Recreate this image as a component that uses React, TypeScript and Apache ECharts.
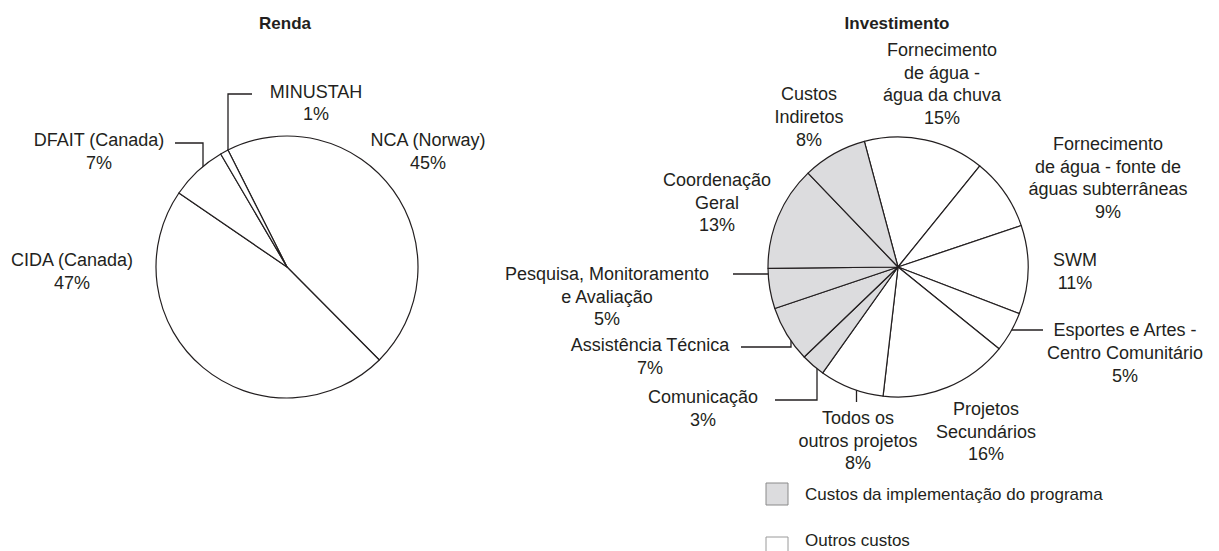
import { useEffect, useRef } from "react";
import * as echarts from "echarts";

// ---- data ----
const titles = ["Renda", "Investimento"];

const rendaNames = ["NCA (Norway)", "CIDA (Canada)", "DFAIT (Canada)", "MINUSTAH"];
const rendaValues = [45, 47, 7, 1];

const investNames = [
  "Fornecimento\nde água -\nágua da chuva",
  "Fornecimento\nde água - fonte de\náguas subterrâneas",
  "SWM",
  "Esportes e Artes -\nCentro Comunitário",
  "Projetos\nSecundários",
  "Todos os\noutros projetos",
  "Comunicação",
  "Assistência Técnica",
  "Pesquisa, Monitoramento\ne Avaliação",
  "Coordenação\nGeral",
  "Custos\nIndiretos",
];
const investValues = [15, 9, 11, 5, 16, 8, 3, 7, 5, 13, 8];
// 1 = custos da implementação do programa, 0 = outros custos
const investGroup = [0, 0, 0, 0, 0, 0, 1, 1, 1, 1, 1];

const legendLabels = ["Custos da implementação do programa", "Outros custos"];

// ---- layout (positions only) ----
const rendaLabelPos: number[][] = [
  [428, 151.5],
  [72, 271.5],
  [99, 151.5],
  [316, 103],
];
const rendaLeaders: (number[][] | null)[] = [
  null,
  null,
  [[203, 183], [203, 143], [175, 143]],
  [[228, 159], [228, 94], [252, 94]],
];

const investLabelPos: number[][] = [
  [942, 84],
  [1108, 178],
  [1075, 271.5],
  [1125, 353],
  [986, 431.7],
  [858, 440.8],
  [703, 408.7],
  [650, 356.7],
  [607, 296.7],
  [717, 202.7],
  [809, 117],
];
const investLeaders: (number[][] | null)[] = [
  null,
  null,
  null,
  [[994, 330], [1018, 330], [1043, 330]],
  null,
  [[856.5, 377], [856.5, 390], [856.5, 402]],
  [[817, 359], [817, 400], [775, 400]],
  [[791, 323], [791, 347], [741, 347]],
  [[785, 274], [759, 274], [733, 274]],
  null,
  null,
];

const INK = "#231f20";
const GRAY = "#dcdcde";
const FONT = "Liberation Sans";

function App() {
  const ref = useRef<HTMLDivElement>(null);

  useEffect(() => {
    document.body.style.margin = "0";
    if (!ref.current) return;
    const chart = echarts.init(ref.current, null, { renderer: "svg" });

    const labelCommon = {
      show: true,
      position: "outside" as const,
      formatter: "{b}\n{c}%",
      color: INK,
      fontSize: 18,
      fontFamily: FONT,
      lineHeight: 22.7,
      align: "center" as const,
    };

    const mkLayout = (pos: number[][], leaders: (number[][] | null)[]) =>
      (params: any) => {
        const i = params.dataIndex;
        const out: any = {
          x: pos[i][0],
          y: pos[i][1],
          align: "center",
          verticalAlign: "middle",
        };
        if (leaders[i]) out.labelLinePoints = leaders[i];
        return out;
      };

    const rendaData = rendaNames.map((n, i) => ({
      name: n,
      value: rendaValues[i],
      itemStyle: { color: "#ffffff" },
      labelLine: { show: !!rendaLeaders[i] },
    }));

    const investData = investNames.map((n, i) => ({
      name: n,
      value: investValues[i],
      itemStyle: { color: investGroup[i] ? GRAY : "#ffffff" },
      labelLine: { show: !!investLeaders[i] },
    }));

    const lineStyle = { color: INK, width: 1.3 };

    const txt = (x: number, y: number, text: string, size: number, bold: boolean, align: string) => ({
      type: "text",
      x,
      y,
      style: {
        text,
        fill: INK,
        fontSize: size,
        fontWeight: bold ? "bold" : "normal",
        fontFamily: FONT,
        align,
        verticalAlign: "middle",
        textAlign: align,
        textVerticalAlign: "middle",
      },
    });

    chart.setOption({
      animation: false,
      backgroundColor: "#ffffff",
      graphic: [
        txt(285, 23, titles[0], 17, true, "center"),
        txt(897, 23, titles[1], 17, true, "center"),
        {
          type: "rect",
          shape: { x: 766, y: 483, width: 22, height: 22 },
          style: { fill: GRAY, stroke: "#8a8a8a", lineWidth: 1 },
        },
        txt(805, 494, legendLabels[0], 17, false, "left"),
        {
          type: "rect",
          shape: { x: 766, y: 537, width: 22, height: 22 },
          style: { fill: "#ffffff", stroke: "#9a9a9a", lineWidth: 1 },
        },
        txt(805, 540, legendLabels[1], 17, false, "left"),
      ],
      series: [
        {
          type: "pie",
          name: titles[0],
          center: [287, 267],
          radius: 131,
          startAngle: 116.8,
          clockwise: true,
          avoidLabelOverlap: false,
          silent: true,
          emphasis: { disabled: true },
          itemStyle: { borderColor: INK, borderWidth: 1.2 },
          label: labelCommon,
          labelLine: { show: true, length: 5, length2: 5, lineStyle },
          labelLayout: mkLayout(rendaLabelPos, rendaLeaders),
          data: rendaData,
        },
        {
          type: "pie",
          name: titles[1],
          center: [898, 267],
          radius: 130,
          startAngle: 105,
          clockwise: true,
          avoidLabelOverlap: false,
          silent: true,
          emphasis: { disabled: true },
          itemStyle: { borderColor: INK, borderWidth: 1.2 },
          label: labelCommon,
          labelLine: { show: true, length: 5, length2: 5, lineStyle },
          labelLayout: mkLayout(investLabelPos, investLeaders),
          data: investData,
        },
      ],
    });

    return () => chart.dispose();
  }, []);

  return <div ref={ref} style={{ width: 1219, height: 551 }} />;
}

export default App;
